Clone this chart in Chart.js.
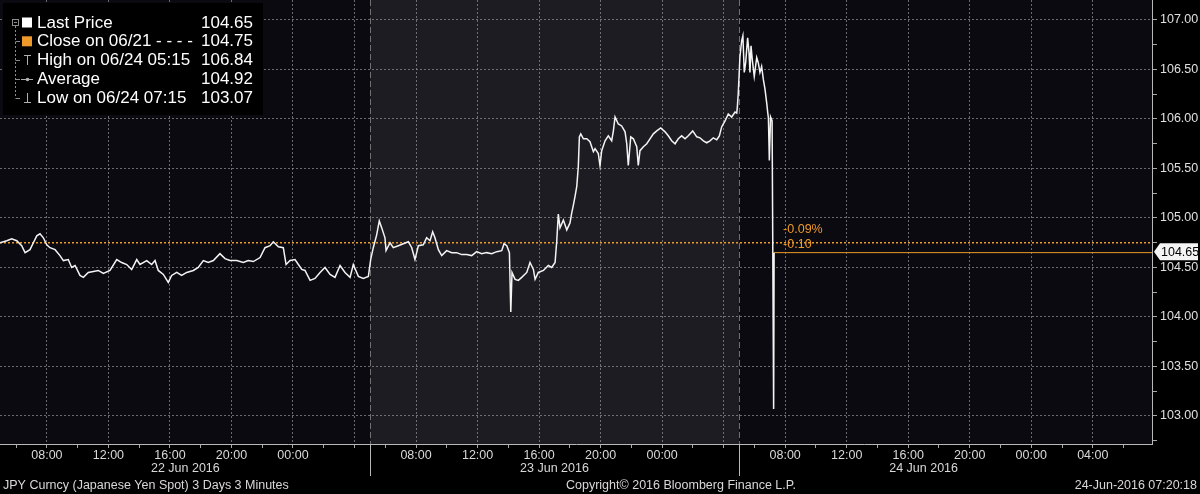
<!DOCTYPE html>
<html>
<head>
<meta charset="utf-8">
<script src="https://cdn.jsdelivr.net/npm/chart.js@4.4.0/dist/chart.umd.min.js"></script>
<style>
  html, body { margin: 0; padding: 0; background: #000; }
  #wrap { width: 1200px; height: 494px; }
</style>
</head>
<body>
<div id="wrap"><canvas id="chart" width="1200" height="494"></canvas></div>
<script>
// time is in hours counted from 22 Jun 2016 00:00
const times = [
  4.95, 5.39, 5.71, 6.04, 6.36, 6.58, 6.90, 7.12, 7.34, 7.55, 7.77, 7.99, 8.20, 8.53, 8.85, 9.07,
  9.39, 9.61, 9.83, 10.15, 10.37, 10.69, 11.02, 11.34, 11.67, 12.10, 12.54, 12.86, 13.19, 13.51,
  13.84, 14.05, 14.49, 14.81, 15.03, 15.24, 15.57, 15.89, 16.11, 16.44, 16.76, 17.09, 17.52, 17.84,
  18.17, 18.49, 18.82, 19.25, 19.58, 19.90, 20.34, 20.77, 21.09, 21.42, 21.86, 22.18, 22.51, 22.72,
  23.05, 23.37, 23.55, 23.81, 24.13, 24.35, 24.57, 24.78, 25.11, 25.43, 25.76, 26.08, 26.41, 26.73,
  27.06, 27.38, 27.71, 27.92, 28.25, 28.57, 28.90, 29.05, 29.22, 29.44, 29.61, 29.77, 29.98, 30.05,
  30.31, 30.52, 30.85, 31.17, 31.50, 31.72, 31.93, 32.15, 32.47, 32.69, 32.91, 33.08, 33.23, 33.45,
  33.67, 33.99, 34.32, 34.64, 34.97, 35.29, 35.62, 35.94, 36.27, 36.59, 36.92, 37.25, 37.57, 37.72,
  37.90, 38.07, 38.16, 38.24, 38.44, 38.65, 38.87, 39.20, 39.41, 39.63, 39.74, 39.95, 40.28, 40.60,
  40.82, 41.04, 41.15, 41.25, 41.36, 41.58, 41.80, 42.01, 42.12, 42.23, 42.34, 42.45, 42.55, 42.62,
  42.71, 42.88, 43.10, 43.31, 43.53, 43.64, 43.85, 43.96, 44.07, 44.29, 44.50, 44.72, 44.83, 44.94,
  45.15, 45.37, 45.59, 45.70, 45.80, 45.96, 46.13, 46.35, 46.45, 46.56, 46.78, 47.00, 47.21, 47.43,
  47.65, 47.91, 48.19, 48.40, 48.62, 48.84, 49.05, 49.27, 49.49, 49.70, 49.99, 50.25, 50.46, 50.68,
  50.90, 51.11, 51.33, 51.55, 51.72, 51.87, 52.09, 52.30, 52.52, 52.74, 52.85, 52.89, 52.95, 53.06,
  53.17, 53.25, 53.34, 53.43, 53.56, 53.65, 53.71, 53.78, 53.86, 53.99, 54.15, 54.25, 54.36, 54.47,
  54.58, 54.69, 54.80, 54.87, 54.91, 54.97, 55.05, 55.15, 55.25, 55.28
]
const prices = [
  104.75, 104.77, 104.79, 104.77, 104.72, 104.65, 104.68, 104.75, 104.82, 104.84, 104.80, 104.73, 104.70, 104.68, 104.62, 104.57,
  104.58, 104.50, 104.52, 104.42, 104.40, 104.45, 104.46, 104.47, 104.44, 104.47, 104.58, 104.55, 104.53, 104.48,
  104.58, 104.53, 104.57, 104.53, 104.57, 104.47, 104.43, 104.35, 104.42, 104.45, 104.42, 104.45, 104.47, 104.50,
  104.57, 104.55, 104.57, 104.64, 104.59, 104.57, 104.57, 104.55, 104.57, 104.56, 104.60, 104.70, 104.72, 104.76,
  104.71, 104.70, 104.53, 104.57, 104.58, 104.53, 104.48, 104.47, 104.37, 104.39, 104.45, 104.50, 104.43, 104.40,
  104.52, 104.45, 104.40, 104.53, 104.41, 104.39, 104.41, 104.58, 104.70, 104.83, 104.97, 104.90, 104.80, 104.67,
  104.75, 104.70, 104.72, 104.74, 104.76, 104.70, 104.58, 104.72, 104.73, 104.80, 104.77, 104.86, 104.80, 104.68,
  104.62, 104.67, 104.65, 104.65, 104.63, 104.63, 104.62, 104.66, 104.64, 104.65, 104.64, 104.66, 104.67, 104.74,
  104.72, 104.65, 104.05, 104.45, 104.38, 104.37, 104.40, 104.45, 104.55, 104.48, 104.38, 104.45, 104.47, 104.52,
  104.50, 104.55, 104.77, 105.04, 104.90, 104.98, 104.88, 104.95, 105.05, 105.13, 105.22, 105.32, 105.52, 105.82,
  105.85, 105.80, 105.80, 105.77, 105.67, 105.70, 105.65, 105.53, 105.68, 105.78, 105.83, 105.78, 105.88, 106.02,
  105.95, 105.93, 105.87, 105.75, 105.53, 105.82, 105.80, 105.72, 105.53, 105.68, 105.72, 105.75, 105.80, 105.85,
  105.88, 105.91, 105.87, 105.83, 105.78, 105.75, 105.80, 105.83, 105.80, 105.83, 105.88, 105.82, 105.81, 105.78,
  105.76, 105.78, 105.81, 105.79, 105.83, 105.92, 105.98, 106.05, 106.02, 106.07, 106.06, 106.12, 106.26, 106.63,
  106.79, 106.84, 106.47, 106.57, 106.82, 106.67, 106.47, 106.74, 106.60, 106.43, 106.62, 106.57, 106.47, 106.53,
  106.40, 106.30, 106.16, 106.06, 106.01, 105.58, 106.02, 105.98, 103.07, 104.65
]
const closePrice = 104.75
const lastPrice = 104.65
const lastTime = 55.28
const xMin = 4.95
const xMax = 79.85
const yMin = 102.717
const yMax = 107.202
const yTicks = [102.75, 103.00, 103.25, 103.50, 103.75, 104.00, 104.25, 104.50, 104.75, 105.00, 105.25,
  105.50, 105.75, 106.00, 106.25, 106.50, 106.75, 107.00]
const xTicks = [6, 8, 10, 12, 14, 16, 18, 20, 22, 24, 26, 28, 30, 32, 34, 36, 38, 40, 42, 44, 46, 48,
  50, 52, 54, 56, 58, 60, 62, 64, 66, 68, 70, 72, 74, 76, 78]
const dayStarts = [5, 29, 53]
const dayLabels = ['22 Jun 2016', '23 Jun 2016', '24 Jun 2016']
const legendLabels = ['Last Price', 'Close on 06/21 - - - -', 'High on 06/24 05:15', 'Average', 'Low on 06/24 07:15']
const legendValues = ['104.65', '104.75', '106.84', '104.92', '103.07']
const changeLabels = ['-0.09%', '-0.10']
const footerLeft = 'JPY Curncy (Japanese Yen Spot) 3 Days 3 Minutes'
const footerMid = 'Copyright\u00a9 2016 Bloomberg Finance L.P.'
const footerRight = '24-Jun-2016 07:20:18'

const ORANGE = '#ee9a2a'
const GRID = 'rgba(140,140,140,0.75)'
const FONT = "'Liberation Sans', Arial, sans-serif"
Chart.defaults.font.family = FONT

const isMajorY = v => Math.abs(v * 2 - Math.round(v * 2)) < 1e-6
const hourLabel = v => {
  const h = ((v % 24) + 24) % 24
  if (h % 4 !== 0) return ''
  if (h === 4 && v < dayStarts[2]) return ''
  return String(h).padStart(2, '0') + ':00'
}

const bbgPlugin = {
  id: 'bbg',
  beforeDraw(chart) {
    const { ctx, chartArea: a, scales: { x } } = chart
    ctx.save()
    ctx.fillStyle = '#000'
    ctx.fillRect(0, 0, chart.width, chart.height)
    ctx.fillStyle = '#0b0a10'
    ctx.fillRect(a.left, a.top, a.width, a.height)
    const s = x.getPixelForValue(dayStarts[1])
    const e = x.getPixelForValue(dayStarts[2])
    ctx.fillStyle = '#1d1c22'
    ctx.fillRect(s, a.top, e - s, a.height)
    ctx.restore()
  },
  beforeDatasetsDraw(chart) {
    const { ctx, chartArea: a, scales: { x } } = chart
    ctx.save()
    ctx.lineWidth = 1
    for (const d of dayStarts.slice(1)) {
      const p = Math.round(x.getPixelForValue(d)) + 0.5
      ctx.strokeStyle = '#707070'
      ctx.setLineDash([6, 3])
      ctx.beginPath(); ctx.moveTo(p, a.top); ctx.lineTo(p, a.bottom); ctx.stroke()
      ctx.setLineDash([])
      ctx.strokeStyle = '#b8b8b8'
      ctx.beginPath(); ctx.moveTo(p, a.bottom); ctx.lineTo(p, a.bottom + 32); ctx.stroke()
    }
    ctx.restore()
  },
  afterDraw(chart) {
    const { ctx, chartArea: a, scales: { x, y } } = chart
    ctx.save()

    // day labels under the time axis
    ctx.font = '12.5px ' + FONT
    ctx.fillStyle = '#d8d8d8'
    ctx.textAlign = 'center'
    ctx.textBaseline = 'middle'
    dayStarts.forEach((d, i) => {
      const c = x.getPixelForValue(d + 12)
      ctx.fillText(dayLabels[i], c, 469)
    })

    // footer
    ctx.textAlign = 'left'
    ctx.fillText(footerLeft, 3, 486)
    ctx.fillText(footerMid, 566, 486)
    ctx.textAlign = 'right'
    ctx.fillText(footerRight, 1197, 486)

    // change labels next to the last bar
    const cy = y.getPixelForValue(closePrice)
    const lx = x.getPixelForValue(lastTime) + 9
    ctx.fillStyle = ORANGE
    ctx.textAlign = 'left'
    ctx.fillText(changeLabels[0], lx, cy - 13)
    ctx.fillText(changeLabels[1], lx, cy + 2)

    // last price tag on the right axis
    const ty = y.getPixelForValue(lastPrice) - 1
    ctx.fillStyle = '#f4f4f4'
    ctx.beginPath()
    ctx.moveTo(a.right + 2, ty)
    ctx.lineTo(a.right + 8, ty - 8.5)
    ctx.lineTo(1198, ty - 8.5)
    ctx.lineTo(1198, ty + 8.5)
    ctx.lineTo(a.right + 8, ty + 8.5)
    ctx.closePath()
    ctx.fill()
    ctx.fillStyle = '#000'
    ctx.fillText(lastPrice.toFixed(2), 1161, ty + 0.5)

    // legend box
    ctx.fillStyle = '#000'
    ctx.fillRect(3, 3, 260, 112)
    const rows = [22.5, 41.3, 60, 78.8, 97.5]
    ctx.strokeStyle = '#8c8c8c'
    ctx.lineWidth = 1
    ctx.setLineDash([2, 2])
    ctx.beginPath(); ctx.moveTo(15.5, 26); ctx.lineTo(15.5, rows[4]); ctx.stroke()
    ctx.setLineDash([])
    rows.slice(1).forEach(r => {
      ctx.beginPath(); ctx.moveTo(15.5, Math.round(r) + 0.5); ctx.lineTo(20, Math.round(r) + 0.5); ctx.stroke()
    })
    ctx.strokeRect(12.5, 19.5, 6, 6)
    ctx.beginPath(); ctx.moveTo(14, 22.5); ctx.lineTo(17, 22.5); ctx.stroke()
    ctx.fillStyle = '#fff'
    ctx.fillRect(22, 17.5, 10, 10)
    ctx.fillStyle = ORANGE
    ctx.fillRect(22, 36.3, 10, 10)
    ctx.strokeStyle = '#b0b0b0'
    ctx.beginPath()
    ctx.moveTo(24, 55.5); ctx.lineTo(31, 55.5)
    ctx.moveTo(27.5, 55.5); ctx.lineTo(27.5, 65)
    ctx.moveTo(21, 79.5); ctx.lineTo(33, 79.5)
    ctx.moveTo(27.5, 93); ctx.lineTo(27.5, 102)
    ctx.moveTo(24, 102.5); ctx.lineTo(31, 102.5)
    ctx.stroke()
    ctx.fillStyle = '#b0b0b0'
    ctx.beginPath(); ctx.arc(27.5, 79.5, 1.8, 0, Math.PI * 2); ctx.fill()

    ctx.font = '17px ' + FONT
    ctx.fillStyle = '#fff'
    ctx.textBaseline = 'middle'
    legendLabels.forEach((t, i) => {
      ctx.textAlign = 'left'
      ctx.fillText(t, 37, rows[i] + 0.5)
      ctx.textAlign = 'right'
      ctx.fillText(legendValues[i], 253, rows[i] + 0.5)
    })
    ctx.restore()
  }
}

const ctx = document.getElementById('chart').getContext('2d')
const chart = new Chart(ctx, {
  type: 'line',
  data: {
    datasets: [
      {
        label: 'Last Price',
        data: times.map((t, i) => ({ x: t, y: prices[i] })),
        borderColor: '#f4f4f4',
        borderWidth: 1.5,
        pointRadius: 0,
        tension: 0
      },
      {
        label: 'Close on 06/21',
        data: [{ x: xMin, y: closePrice }, { x: xMax, y: closePrice }],
        borderColor: ORANGE,
        borderWidth: 1.5,
        borderDash: [2, 2],
        pointRadius: 0
      },
      {
        label: 'Last',
        data: [{ x: lastTime, y: lastPrice }, { x: xMax, y: lastPrice }],
        borderColor: ORANGE,
        borderWidth: 1,
        pointRadius: 0
      }
    ]
  },
  options: {
    responsive: false,
    animation: false,
    events: [],
    layout: { padding: 0 },
    plugins: { legend: { display: false }, tooltip: { enabled: false } },
    scales: {
      x: {
        type: 'linear',
        min: xMin,
        max: xMax,
        afterBuildTicks: s => { s.ticks = xTicks.map(v => ({ value: v })) },
        afterFit: s => { s.height = 50; s.paddingLeft = 0; s.paddingRight = 0 },
        ticks: {
          callback: v => hourLabel(v),
          color: '#d8d8d8',
          font: { size: 12.5 },
          autoSkip: false,
          maxRotation: 0,
          padding: 0
        },
        grid: {
          color: c => c.tick && c.tick.value % 4 === 0 ? GRID : 'rgba(0,0,0,0)',
          lineWidth: 1,
          tickLength: 4,
          tickColor: '#a8a8a8'
        },
        border: { color: '#b8b8b8', dash: [2, 2] }
      },
      y: {
        position: 'right',
        min: yMin,
        max: yMax,
        afterBuildTicks: s => { s.ticks = yTicks.map(v => ({ value: v })) },
        afterFit: s => { s.width = 48; s.paddingTop = 0; s.paddingBottom = 0 },
        ticks: {
          callback: v => isMajorY(v) ? v.toFixed(2) : '',
          color: '#e0e0e0',
          font: { size: 12.5 },
          autoSkip: false,
          padding: 3
        },
        grid: {
          color: c => c.tick && isMajorY(c.tick.value) ? GRID : 'rgba(0,0,0,0)',
          lineWidth: 1,
          tickLength: 5,
          tickColor: '#a8a8a8'
        },
        border: { color: '#b8b8b8', dash: [2, 2] }
      }
    }
  },
  plugins: [bbgPlugin]
})
</script>
</body>
</html>
